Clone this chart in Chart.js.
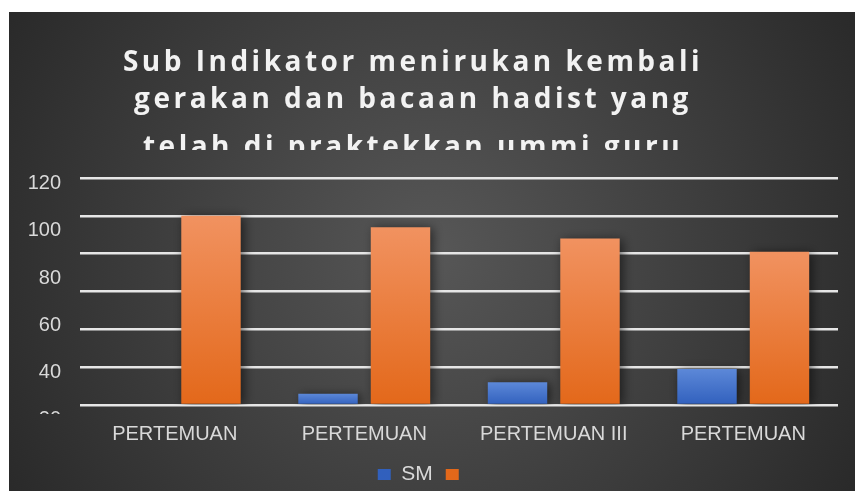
<!DOCTYPE html>
<html>
<head>
<meta charset="utf-8">
<script src="https://cdn.jsdelivr.net/npm/chart.js@4"></script>
<style>
  body { margin: 0; background: #ffffff; }
  #wrap { position: absolute; left: 9px; top: 12px; width: 846px; height: 479px; }
</style>
</head>
<body>
<div id="wrap"><canvas id="chart" width="846" height="479" style="width:846px;height:479px"></canvas></div>
<script>
// chart data
const titleLines = [
    'Sub Indikator menirukan kembali',
    'gerakan dan bacaan hadist yang',
    'telah di praktekkan ummi guru'
];
const categories = ['PERTEMUAN', 'PERTEMUAN', 'PERTEMUAN III', 'PERTEMUAN'];
const smValues = [0, 6, 12, 19];
const secondValues = [100, 94, 88, 81];
const yTickLabels = [20, 40, 60, 80, 100, 120];

const fontFamily = '"Liberation Sans", Arial, sans-serif';
const textColor = '#d9d9d9';

function barFill(top, bottom) {
    return (c) => {
        const chart = c.chart;
        const area = chart.chartArea;
        if (!area || c.raw == null || !chart.scales.y) return bottom;
        const y = chart.scales.y.getPixelForValue(c.raw);
        // zero height bars (and the legend box that copies them) get a flat colour
        if (y >= area.bottom - 1) return bottom;
        const g = chart.ctx.createLinearGradient(0, y, 0, area.bottom);
        g.addColorStop(0, top);
        g.addColorStop(1, bottom);
        return g;
    };
}

// radial background, plus a clip that cuts the bottom "20" label
const backgroundPlugin = {
    id: 'background',
    beforeDraw(chart) {
        const { ctx, width, height } = chart;
        const g = ctx.createRadialGradient(width * 0.5, height * 0.5, 0, width * 0.5, height * 0.5, width * 0.62);
        g.addColorStop(0, '#575757');
        g.addColorStop(1, '#262626');
        ctx.save();
        ctx.fillStyle = g;
        ctx.fillRect(0, 0, width, height);
        ctx.restore();

        ctx.save();
        ctx.beginPath();
        ctx.rect(0, 0, width, height);
        ctx.rect(0, 402, 70, 16);
        ctx.clip('evenodd');
    },
    afterDraw(chart) {
        chart.ctx.restore();
    }
};

const shadowPlugin = {
    id: 'barShadow',
    beforeDatasetsDraw(chart) {
        const ctx = chart.ctx;
        ctx.save();
        ctx.shadowColor = 'rgba(0, 0, 0, 0.55)';
        ctx.shadowBlur = 10;
        ctx.shadowOffsetX = 3;
        ctx.shadowOffsetY = 1;
    },
    afterDatasetsDraw(chart) {
        chart.ctx.restore();
    }
};

// spaced-out title, last line cut off like the original
const titlePlugin = {
    id: 'clippedTitle',
    afterDraw(chart) {
        const ctx = chart.ctx;
        ctx.save();
        ctx.beginPath();
        ctx.rect(0, 0, chart.width, 138);
        ctx.clip();
        ctx.fillStyle = '#f2f2f2';
        ctx.font = 'bold 28px "Open Sans", sans-serif';
        ctx.letterSpacing = '3.5px';
        ctx.textAlign = 'center';
        ctx.textBaseline = 'alphabetic';
        const baselines = [59, 96, 144];
        titleLines.forEach((line, i) => ctx.fillText(line, 404, baselines[i]));
        ctx.restore();
    }
};

new Chart(document.getElementById('chart'), {
    type: 'bar',
    data: {
        labels: categories,
        datasets: [
            {
                label: 'SM',
                data: smValues,
                backgroundColor: barFill('#5c88d8', '#3160bd'),
                yAxisID: 'y'
            },
            {
                label: '',
                data: secondValues,
                backgroundColor: barFill('#f19260', '#e3681a'),
                yAxisID: 'y'
            }
        ]
    },
    options: {
        responsive: false,
        animation: false,
        devicePixelRatio: 1,
        categoryPercentage: 0.765,
        barPercentage: 0.82,
        layout: { padding: { top: 166, right: 17, bottom: -4, left: 0 } },
        plugins: {
            title: { display: false },
            tooltip: { enabled: false },
            legend: {
                position: 'bottom',
                labels: {
                    color: textColor,
                    font: { family: fontFamily, size: 21 },
                    boxWidth: 13,
                    boxHeight: 11,
                    padding: 13
                }
            }
        },
        scales: {
            x: {
                grid: { display: false, drawTicks: false },
                border: { display: false },
                ticks: {
                    color: textColor,
                    font: { family: fontFamily, size: 20 },
                    padding: 17,
                    maxRotation: 0,
                    autoSkip: false
                },
                afterFit: (s) => { s.height = 46; }
            },
            y: {
                min: 0,
                max: 120,
                ticks: { display: false, stepSize: 20 },
                border: { display: false },
                grid: { color: '#e6e6e6', lineWidth: 2.5, drawTicks: false },
                afterFit: (s) => { s.width = 0; }
            },
            yl: {
                type: 'linear',
                position: 'left',
                min: 26.1,
                max: 122.5,
                grid: { display: false, drawTicks: false },
                border: { display: false },
                ticks: {
                    color: textColor,
                    font: { family: fontFamily, size: 20 },
                    padding: 19
                },
                afterBuildTicks: (s) => { s.ticks = yTickLabels.map(v => ({ value: v })); },
                afterFit: (s) => { s.width = 71; }
            }
        }
    },
    plugins: [backgroundPlugin, shadowPlugin, titlePlugin]
});
</script>
</body>
</html>
